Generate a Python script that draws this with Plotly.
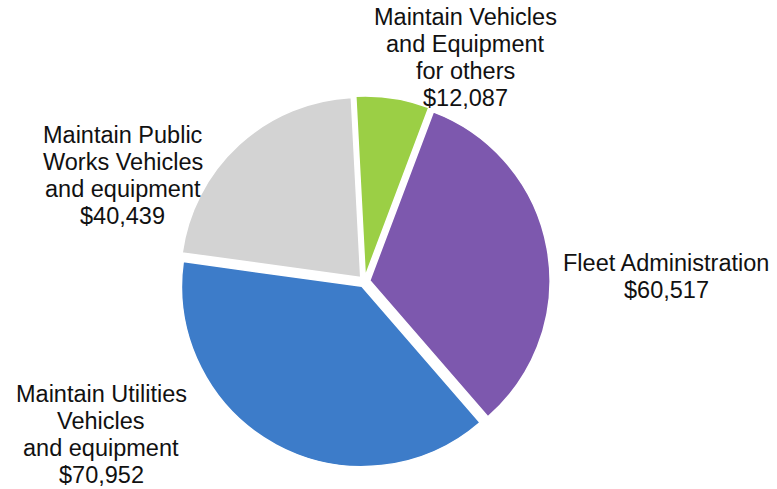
import plotly.graph_objects as go

# Datos del gráfico
categorias = [
    "Maintain Vehicles<br>and Equipment<br>for others",
    "Fleet Administration",
    "Maintain Utilities<br>Vehicles<br>and equipment",
    "Maintain Public<br>Works Vehicles<br>and equipment",
]
valores = [12087, 60517, 70952, 40439]
colores = ["#9BCF45", "#7D58AE", "#3D7CC9", "#D3D3D3"]

# centro de la primera línea de cada etiqueta (píxeles)
etiquetas_x = [466, 666, 101, 123]
etiquetas_y = [17, 263, 394, 135]
ALTO_LINEA = 27
W, H = 777, 489

fig = go.Figure(
    go.Pie(
        labels=categorias,
        values=valores,
        sort=False,
        direction="clockwise",
        rotation=-3,
        pull=[0.03, 0.03, 0.03, 0.03],
        marker=dict(colors=colores, line=dict(color="white", width=1.5)),
        textinfo="none",
        hoverinfo="label+value",
        domain=dict(x=[0.2300, 0.7080], y=[0.0437, 0.8047]),
        showlegend=False,
    )
)

for cat, val, x, y in zip(categorias, valores, etiquetas_x, etiquetas_y):
    lineas = cat.split("<br>") + [f"${val:,}"]
    for i, linea in enumerate(lineas):
        fig.add_annotation(
            x=x / W, y=1 - (y + i * ALTO_LINEA) / H,
            xref="paper", yref="paper",
            xanchor="center", yanchor="middle",
            text=linea,
            showarrow=False,
            font=dict(family="Liberation Sans, Arial", size=23.5, color="#111111"),
        )

fig.update_layout(
    width=W,
    height=H,
    margin=dict(l=0, r=0, t=0, b=0),
    paper_bgcolor="white",
    plot_bgcolor="white",
)

# sin el margen de 8 px del <body> para que la figura ocupe toda la ventana
fig.write_html(
    "out.html",
    config={"displayModeBar": False},
    post_script="document.body.style.margin = '0';",
)
